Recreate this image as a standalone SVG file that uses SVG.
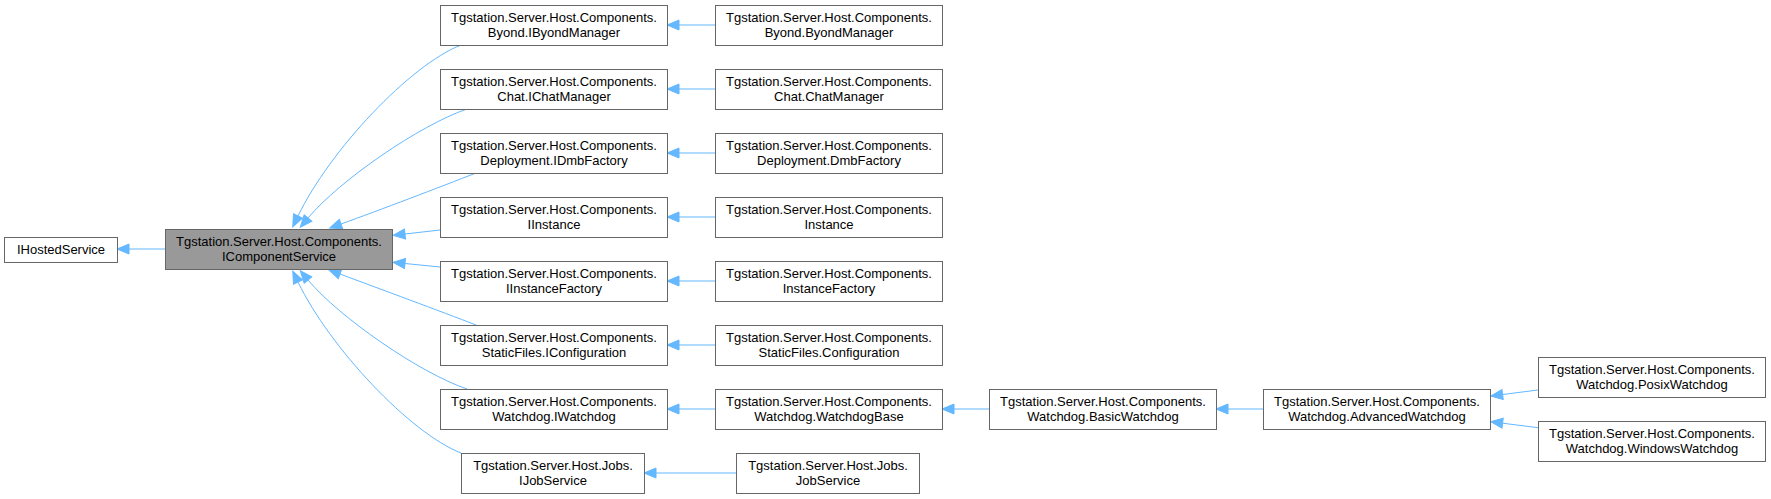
<svg xmlns="http://www.w3.org/2000/svg" width="1771" height="499" viewBox="0 0 1771 499">
<style>
.box{fill:#ffffff;stroke:#666666;stroke-width:1}
.hl{fill:#999999;stroke:#666666;stroke-width:1}
text{font-family:"Liberation Sans",Arial,sans-serif;font-size:13px;fill:#000000;text-anchor:middle}
.edge{fill:none;stroke:#63b8ff;stroke-width:1;marker-end:url(#arr)}
</style>
<defs>
<marker id="arr" markerUnits="userSpaceOnUse" markerWidth="13" markerHeight="11" refX="0" refY="5" orient="auto" overflow="visible">
<path d="M0,0 L12,5 L0,10 Z" fill="#63b8ff" stroke="#63b8ff" stroke-width="1"/>
</marker>
</defs>
<rect width="1771" height="499" fill="#ffffff"/>
<g id="edges">
<path class="edge" d="M165,249 L129,249"/>
<path class="edge" d="M461,45 C410,65 330,150 298,216"/>
<path class="edge" d="M467,109 C420,125 340,180 308,218"/>
<path class="edge" d="M476,173 C440,187 380,210 341,224"/>
<path class="edge" d="M440,230 L405,234"/>
<path class="edge" d="M440,267 L405,263.5"/>
<path class="edge" d="M476,325 C440,311 380,289 340,274"/>
<path class="edge" d="M467,389 C420,373 340,318 308,280"/>
<path class="edge" d="M461,453 C410,433 330,348 298,282"/>
<path class="edge" d="M715,25 L679,25"/>
<path class="edge" d="M715,89 L679,89"/>
<path class="edge" d="M715,153 L679,153"/>
<path class="edge" d="M715,217 L679,217"/>
<path class="edge" d="M715,281 L679,281"/>
<path class="edge" d="M715,345 L679,345"/>
<path class="edge" d="M715,409 L679,409"/>
<path class="edge" d="M736,473 L656,473"/>
<path class="edge" d="M989,409 L954,409"/>
<path class="edge" d="M1263,409 L1228,409"/>
<path class="edge" d="M1538,390 L1502.6,394.5"/>
<path class="edge" d="M1538,427.7 L1502.6,423.2"/>
</g>
<g id="IHostedService"><rect class="box" x="4.5" y="237.5" width="113" height="25"/><text x="61" y="254">IHostedService</text></g>
<g id="IComponentService"><rect class="hl" x="165.5" y="229.5" width="227" height="40"/><text x="279" y="246">Tgstation.Server.Host.Components.</text><text x="279" y="261">IComponentService</text></g>
<g id="IByondManager"><rect class="box" x="440.5" y="5.5" width="227" height="40"/><text x="554" y="22">Tgstation.Server.Host.Components.</text><text x="554" y="37">Byond.IByondManager</text></g>
<g id="IChatManager"><rect class="box" x="440.5" y="69.5" width="227" height="40"/><text x="554" y="86">Tgstation.Server.Host.Components.</text><text x="554" y="101">Chat.IChatManager</text></g>
<g id="IDmbFactory"><rect class="box" x="440.5" y="133.5" width="227" height="40"/><text x="554" y="150">Tgstation.Server.Host.Components.</text><text x="554" y="165">Deployment.IDmbFactory</text></g>
<g id="IInstance"><rect class="box" x="440.5" y="197.5" width="227" height="40"/><text x="554" y="214">Tgstation.Server.Host.Components.</text><text x="554" y="229">IInstance</text></g>
<g id="IInstanceFactory"><rect class="box" x="440.5" y="261.5" width="227" height="40"/><text x="554" y="278">Tgstation.Server.Host.Components.</text><text x="554" y="293">IInstanceFactory</text></g>
<g id="IConfiguration"><rect class="box" x="440.5" y="325.5" width="227" height="40"/><text x="554" y="342">Tgstation.Server.Host.Components.</text><text x="554" y="357">StaticFiles.IConfiguration</text></g>
<g id="IWatchdog"><rect class="box" x="440.5" y="389.5" width="227" height="40"/><text x="554" y="406">Tgstation.Server.Host.Components.</text><text x="554" y="421">Watchdog.IWatchdog</text></g>
<g id="IJobService"><rect class="box" x="461.5" y="453.5" width="183" height="40"/><text x="553" y="470">Tgstation.Server.Host.Jobs.</text><text x="553" y="485">IJobService</text></g>
<g id="ByondManager"><rect class="box" x="715.5" y="5.5" width="227" height="40"/><text x="829" y="22">Tgstation.Server.Host.Components.</text><text x="829" y="37">Byond.ByondManager</text></g>
<g id="ChatManager"><rect class="box" x="715.5" y="69.5" width="227" height="40"/><text x="829" y="86">Tgstation.Server.Host.Components.</text><text x="829" y="101">Chat.ChatManager</text></g>
<g id="DmbFactory"><rect class="box" x="715.5" y="133.5" width="227" height="40"/><text x="829" y="150">Tgstation.Server.Host.Components.</text><text x="829" y="165">Deployment.DmbFactory</text></g>
<g id="Instance"><rect class="box" x="715.5" y="197.5" width="227" height="40"/><text x="829" y="214">Tgstation.Server.Host.Components.</text><text x="829" y="229">Instance</text></g>
<g id="InstanceFactory"><rect class="box" x="715.5" y="261.5" width="227" height="40"/><text x="829" y="278">Tgstation.Server.Host.Components.</text><text x="829" y="293">InstanceFactory</text></g>
<g id="Configuration"><rect class="box" x="715.5" y="325.5" width="227" height="40"/><text x="829" y="342">Tgstation.Server.Host.Components.</text><text x="829" y="357">StaticFiles.Configuration</text></g>
<g id="WatchdogBase"><rect class="box" x="715.5" y="389.5" width="227" height="40"/><text x="829" y="406">Tgstation.Server.Host.Components.</text><text x="829" y="421">Watchdog.WatchdogBase</text></g>
<g id="JobService"><rect class="box" x="736.5" y="453.5" width="183" height="40"/><text x="828" y="470">Tgstation.Server.Host.Jobs.</text><text x="828" y="485">JobService</text></g>
<g id="BasicWatchdog"><rect class="box" x="989.5" y="389.5" width="227" height="40"/><text x="1103" y="406">Tgstation.Server.Host.Components.</text><text x="1103" y="421">Watchdog.BasicWatchdog</text></g>
<g id="AdvancedWatchdog"><rect class="box" x="1263.5" y="389.5" width="227" height="40"/><text x="1377" y="406">Tgstation.Server.Host.Components.</text><text x="1377" y="421">Watchdog.AdvancedWatchdog</text></g>
<g id="PosixWatchdog"><rect class="box" x="1538.5" y="357.5" width="227" height="40"/><text x="1652" y="374">Tgstation.Server.Host.Components.</text><text x="1652" y="389">Watchdog.PosixWatchdog</text></g>
<g id="WindowsWatchdog"><rect class="box" x="1538.5" y="421.5" width="227" height="40"/><text x="1652" y="438">Tgstation.Server.Host.Components.</text><text x="1652" y="453">Watchdog.WindowsWatchdog</text></g>
</svg>
